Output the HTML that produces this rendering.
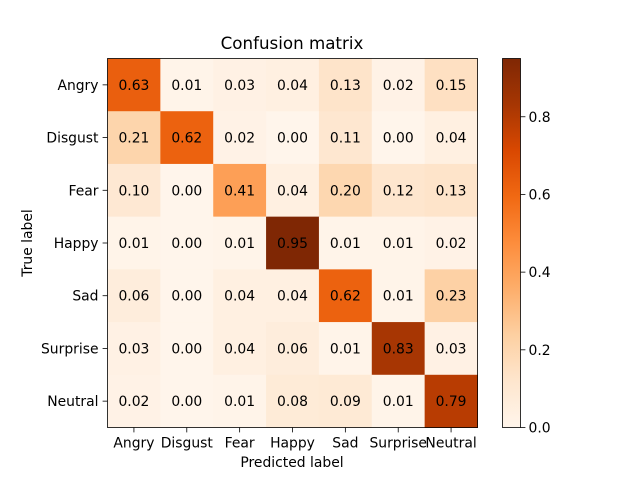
<!DOCTYPE html>
<html><head><meta charset="utf-8"><style>
body{margin:0;background:#fff;font-family:"DejaVu Sans","Liberation Sans",sans-serif}
</style></head><body>
<svg id="chart" width="640" height="480" xmlns="http://www.w3.org/2000/svg" font-family="DejaVu Sans, Liberation Sans, sans-serif" font-size="13.9">
<defs><linearGradient id="cbg" x1="0" y1="1" x2="0" y2="0"></linearGradient></defs>
<text x="292" y="49" text-anchor="middle" font-size="16.7">Confusion matrix</text>
<g id="cells"></g>
<g id="axes"></g>
<text x="292" y="467" text-anchor="middle">Predicted label</text>
<text transform="translate(32,243) rotate(-90)" text-anchor="middle">True label</text>
</svg>
<script>
const labels=["Angry","Disgust","Fear","Happy","Sad","Surprise","Neutral"];
const row0=[0.63,0.01,0.03,0.04,0.13,0.02,0.15];
const row1=[0.21,0.62,0.02,0.00,0.11,0.00,0.04];
const row2=[0.10,0.00,0.41,0.04,0.20,0.12,0.13];
const row3=[0.01,0.00,0.01,0.95,0.01,0.01,0.02];
const row4=[0.06,0.00,0.04,0.04,0.62,0.01,0.23];
const row5=[0.03,0.00,0.04,0.06,0.01,0.83,0.03];
const row6=[0.02,0.00,0.01,0.08,0.09,0.01,0.79];
const matrix=[row0,row1,row2,row3,row4,row5,row6];
const cbTicks=[0,0.2,0.4,0.6,0.8];
const vmax=Math.max(...matrix.flat());
const NS="http://www.w3.org/2000/svg";
const L=107.5,T=58.5,R=477.5,B=427.5,n=labels.length,cw=(R-L)/n,ch=(B-T)/n;
const xs=i=>L+i*cw, ys=i=>T+i*ch;
const stops=["#fff5eb","#fee6ce","#fdd0a2","#fdae6b","#fd8d3c","#f16913","#d94801","#a63603","#7f2704"];
function hex(h){return [1,3,5].map(k=>parseInt(h.substr(k,2),16));}
function cmap(v){let t=Math.max(0,Math.min(1,v/vmax))*(stops.length-1);let i=Math.min(Math.floor(t),stops.length-2),f=t-i;
const a=hex(stops[i]),b=hex(stops[i+1]);return "rgb("+a.map((c,k)=>Math.round(c+(b[k]-c)*f)).join(",")+")";}
function mk(tag,attrs,parent){const e=document.createElementNS(NS,tag);for(const k in attrs)e.setAttribute(k,attrs[k]);parent.appendChild(e);return e;}
const cells=document.getElementById("cells"),axes=document.getElementById("axes");
matrix.forEach((row,r)=>row.forEach((v,c)=>{
 const rc=mk("rect",{x:xs(c),y:ys(r),width:cw+0.5,height:ch+0.5,fill:cmap(v)},cells);
 
 
 const t=mk("text",{x:xs(c)+cw/2,y:ys(r)+ch/2+5,"text-anchor":"middle"},cells);
 t.textContent=v.toFixed(2);
 
 
}));
const fr=mk("rect",{x:L,y:T,width:R-L,height:B-T,fill:"none",stroke:"#000","stroke-width":"0.8"},axes);


labels.forEach((lb,i)=>{
 const cx=xs(i)+cw/2,cy=ys(i)+ch/2;
 mk("line",{x1:cx,x2:cx,y1:B,y2:B+4.9,stroke:"#000","stroke-width":"0.8"},axes);
 const tx=mk("text",{x:cx,y:B+20,"text-anchor":"middle"},axes);tx.textContent=lb;
 
 
 mk("line",{x1:L-4.9,x2:L,y1:cy,y2:cy,stroke:"#000","stroke-width":"0.8"},axes);
 const ty=mk("text",{x:L-9,y:cy+5,"text-anchor":"end"},axes);ty.textContent=lb;
 
 
});
const grad=document.getElementById("cbg");
stops.forEach((s,i)=>mk("stop",{offset:(i/(stops.length-1)),"stop-color":s},grad));
const CL=502.5,CR=520.5;
const cb=mk("rect",{x:CL,y:T,width:CR-CL,height:B-T,fill:"url(#cbg)",stroke:"#000","stroke-width":"0.8"},axes);


const cy=v=>B-(v/vmax)*(B-T);
cbTicks.forEach(v=>{
 mk("line",{x1:CR,x2:CR+4.9,y1:cy(v),y2:cy(v),stroke:"#000","stroke-width":"0.8"},axes);
 const t=mk("text",{x:CR+8,y:cy(v)+5},axes);t.textContent=v.toFixed(1);
 
 
});
</script>
</body></html>
